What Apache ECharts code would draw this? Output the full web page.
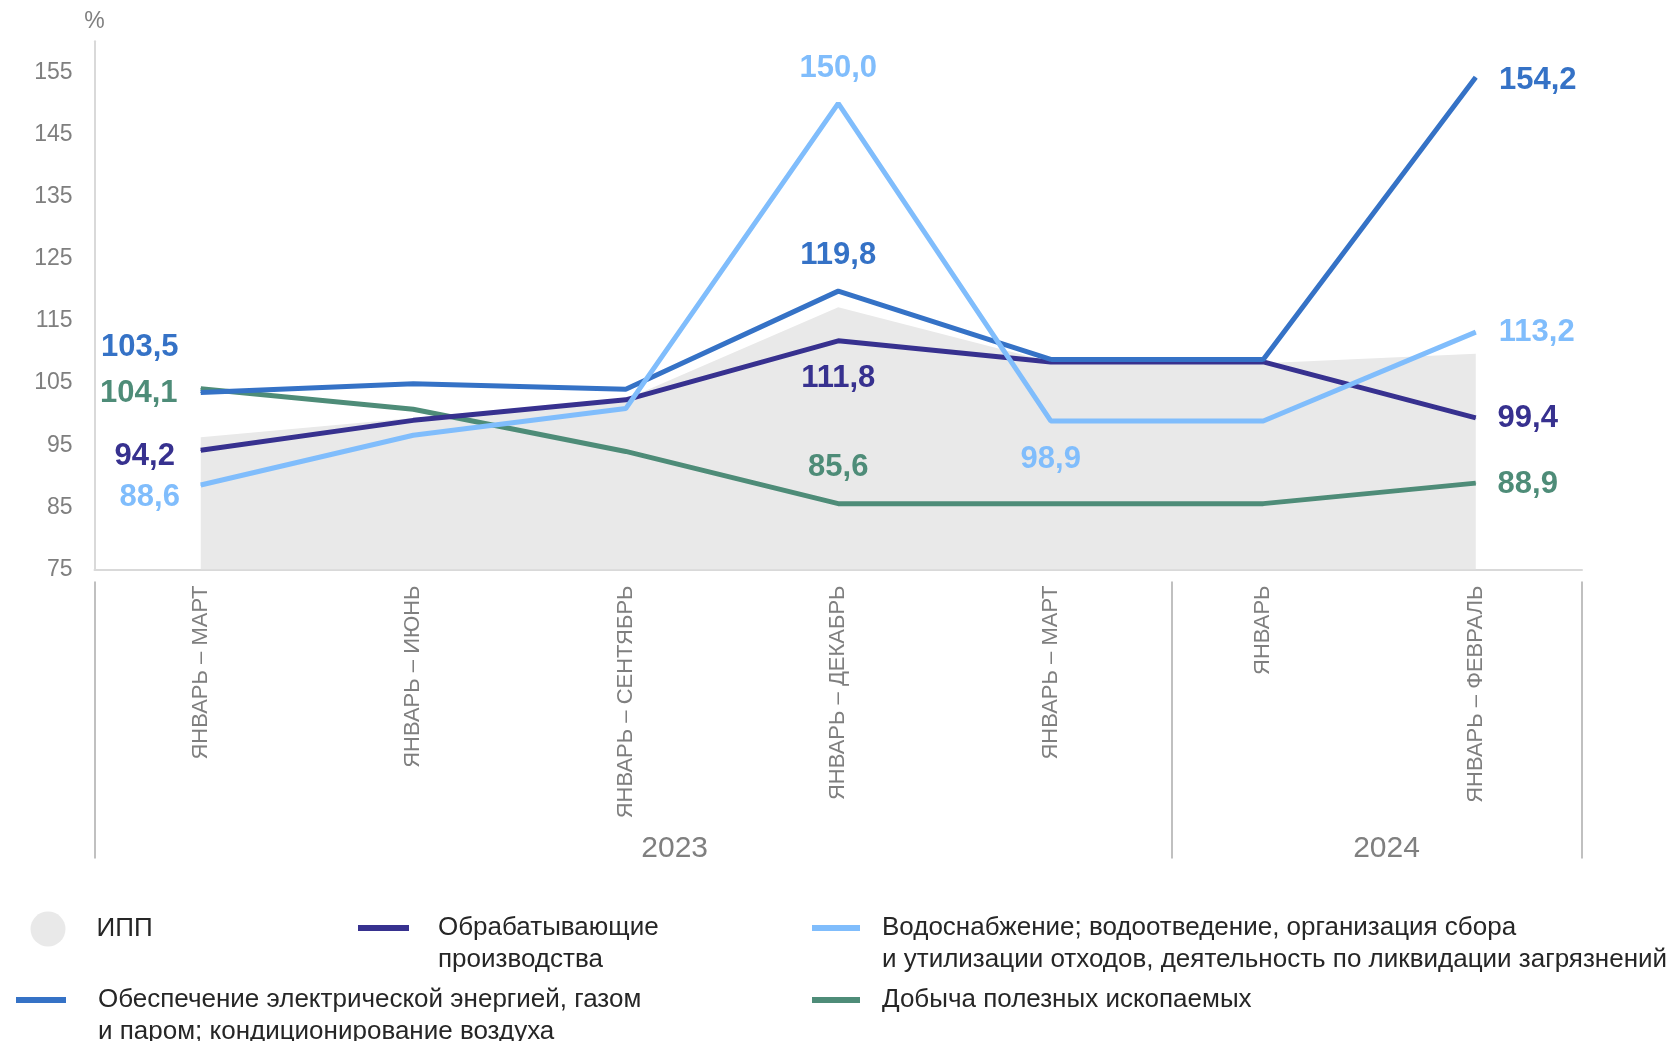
<!DOCTYPE html>
<html>
<head>
<meta charset="utf-8">
<script src="https://cdn.jsdelivr.net/npm/echarts@6/dist/echarts.min.js"></script>
<style>
  html, body { margin: 0; padding: 0; background: #fff; }
  #chart { width: 1675px; height: 1041px; }
</style>
</head>
<body>
<div id="chart"></div>
<script>
var categories = ['ЯНВАРЬ – МАРТ', 'ЯНВАРЬ – ИЮНЬ', 'ЯНВАРЬ – СЕНТЯБРЬ', 'ЯНВАРЬ – ДЕКАБРЬ', 'ЯНВАРЬ – МАРТ', 'ЯНВАРЬ', 'ЯНВАРЬ – ФЕВРАЛЬ'];
var years = ['2023', '2024'];
var yTicks = [75, 85, 95, 105, 115, 125, 135, 145, 155];

var ipp = [96.3, 99.4, 102.4, 117.2, 108.4, 108.2, 109.7];
var manuf = [94.2, 99.0, 102.3, 111.8, 108.4, 108.4, 99.4];
var elec = [103.5, 104.9, 104.0, 119.8, 108.8, 108.8, 154.2];
var water = [88.6, 96.6, 100.9, 150.0, 98.9, 98.9, 113.2];
var mining = [104.1, 100.8, 94.0, 85.6, 85.6, 85.6, 88.9];

var names = {
  ipp: 'ИПП',
  manuf: 'Обрабатывающие производства',
  water: 'Водоснабжение; водоотведение, организация сбора и утилизации отходов, деятельность по ликвидации загрязнений',
  elec: 'Обеспечение электрической энергией, газом и паром; кондиционирование воздуха',
  mining: 'Добыча полезных ископаемых'
};
var legendText = {};
legendText[names.ipp] = 'ИПП';
legendText[names.manuf] = 'Обрабатывающие\nпроизводства';
legendText[names.water] = 'Водоснабжение; водоотведение, организация сбора\nи утилизации отходов, деятельность по ликвидации загрязнений';
legendText[names.elec] = 'Обеспечение электрической энергией, газом\nи паром; кондиционирование воздуха';
legendText[names.mining] = 'Добыча полезных ископаемых';

var FONT = '"Liberation Sans", Arial, sans-serif';
var GRAY = '#7f7f7f';

// where each value label sits, relative to its point (px)
var labelOffsets = {
  elec: { 0: [-61, -45], 3: [0, -36], 6: [62, 3] },
  manuf: { 0: [-56, 6], 3: [0, 38], 6: [52, 1] },
  water: { 0: [-51, 12], 3: [0, -35], 4: [0, 38], 6: [61, 0] },
  mining: { 0: [-62, 5], 3: [0, -36], 6: [52, 1] }
};

function withLabels(values, key, color) {
  return values.map(function (v, i) {
    var off = labelOffsets[key][i];
    if (!off) return v;
    return {
      value: v,
      label: {
        show: true,
        position: 'inside',
        offset: off,
        color: color,
        fontFamily: FONT,
        fontWeight: 'bold',
        fontSize: 31,
        formatter: function (p) { return p.value.toFixed(1).replace('.', ','); }
      }
    };
  });
}

function lineSeries(key, values, color) {
  return {
    name: names[key],
    type: 'line',
    data: withLabels(values, key, color),
    symbol: 'circle',
    symbolSize: 1,
    lineStyle: { color: color, width: 5 },
    itemStyle: { color: color, borderWidth: 0 },
    silent: true,
    z: 3
  };
}

var yearSpots = [2.73, 6.08];

function legendItem(name, left, top, icon, w, h, padLeft) {
  return {
    data: [name],
    left: left,
    top: top,
    padding: 0,
    icon: icon,
    itemWidth: w,
    itemHeight: h,
    selectedMode: false,
    itemStyle: { borderWidth: 0 },
    // two-line names get an empty first line so the icon sits on the first text line
    formatter: function (n) {
      var t = legendText[n];
      return t.indexOf('\n') >= 0 ? '\n' + t : t;
    },
    textStyle: {
      fontFamily: FONT,
      fontSize: 26,
      lineHeight: 32,
      color: '#262626',
      padding: [0, 0, 0, padLeft]
    }
  };
}

var chart = echarts.init(document.getElementById('chart'));

var option = {
  backgroundColor: '#fff',
  animation: false,
  grid: { left: 94.5, right: 93, top: 41.3, bottom: 471.5 },
  legend: [
    legendItem(names.ipp, 30.5, 911.5, 'circle', 35, 35, 26),
    legendItem(names.manuf, 358, 880, 'rect', 51, 6, 24),
    legendItem(names.water, 812, 880, 'rect', 48, 6, 17),
    legendItem(names.elec, 16, 952, 'rect', 50, 6, 27),
    legendItem(names.mining, 812, 984, 'rect', 48, 6, 17)
  ],
  xAxis: [
    {
      type: 'category',
      data: categories,
      boundaryGap: true,
      axisLine: { lineStyle: { color: '#d9d9d9', width: 2 } },
      axisTick: { show: false },
      axisLabel: {
        rotate: 90,
        margin: 16,
        color: GRAY,
        fontFamily: FONT,
        fontSize: 22
      }
    },
    {
      type: 'value',
      position: 'bottom',
      offset: 12,
      min: 0,
      max: 7,
      axisLine: { show: false },
      splitLine: { show: false },
      axisTick: {
        show: true,
        customValues: [0, 5.07, 7],
        length: 277,
        lineStyle: { color: '#c0c0c0', width: 2 }
      },
      axisLabel: {
        customValues: yearSpots,
        margin: 252,
        color: GRAY,
        fontFamily: FONT,
        fontSize: 30,
        lineHeight: 30,
        formatter: function (v) {
          var best = 0;
          yearSpots.forEach(function (s, i) {
            if (Math.abs(s - v) < Math.abs(yearSpots[best] - v)) best = i;
          });
          return years[best];
        }
      }
    }
  ],
  yAxis: {
    type: 'value',
    min: 75,
    max: 160,
    interval: 5,
    name: '%',
    nameLocation: 'end',
    nameGap: 8,
    nameTextStyle: { color: GRAY, fontFamily: FONT, fontSize: 23 },
    axisLine: { show: true, lineStyle: { color: '#d9d9d9', width: 2 } },
    axisTick: { show: false },
    splitLine: { show: false },
    axisLabel: {
      margin: 22,
      color: GRAY,
      fontFamily: FONT,
      fontSize: 23,
      formatter: function (v) { return yTicks.indexOf(v) >= 0 ? String(v) : ''; }
    }
  },
  series: [
    {
      name: names.ipp,
      type: 'line',
      data: ipp,
      symbol: 'none',
      lineStyle: { width: 0 },
      itemStyle: { color: '#e9e9e9' },
      areaStyle: { color: '#e9e9e9', opacity: 1, origin: 'start' },
      silent: true,
      z: 1
    },
    lineSeries('mining', mining, '#4e8c78'),
    lineSeries('manuf', manuf, '#37318f'),
    lineSeries('elec', elec, '#3572c6'),
    lineSeries('water', water, '#80bdfc')
  ]
};

chart.setOption(option);
</script>
</body>
</html>
